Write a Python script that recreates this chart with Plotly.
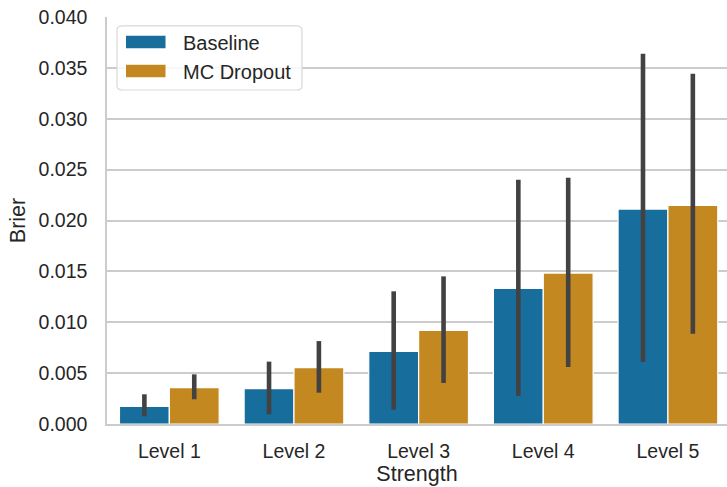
import plotly.graph_objects as go

categories = ["Level 1", "Level 2", "Level 3", "Level 4", "Level 5"]
baseline_mean = [0.00174, 0.00348, 0.00714, 0.01333, 0.02112]
baseline_lo = [0.00076, 0.00095, 0.00141, 0.00275, 0.00609]
baseline_hi = [0.00292, 0.00613, 0.01304, 0.02400, 0.03639]
mc_mean = [0.00358, 0.00554, 0.00920, 0.01483, 0.02148]
mc_lo = [0.00243, 0.00308, 0.00403, 0.00560, 0.00888]
mc_hi = [0.00488, 0.00815, 0.01451, 0.02420, 0.03442]
series_names = ["Baseline", "MC Dropout"]
colors = ["#176D9C", "#C38820"]
y_ticks = [0.0, 0.005, 0.010, 0.015, 0.020, 0.025, 0.030, 0.035, 0.040]

FONT = "Liberation Sans, Arial, sans-serif"
TXT = "#262626"

fig = go.Figure()
for name, mean, lo, hi, col in [
    (series_names[0], baseline_mean, baseline_lo, baseline_hi, colors[0]),
    (series_names[1], mc_mean, mc_lo, mc_hi, colors[1]),
]:
    fig.add_trace(go.Bar(
        x=categories, y=mean, name=name, showlegend=False,
        marker=dict(color=col, line=dict(color="white", width=1.2)),
        error_y=dict(type="data", symmetric=False,
                     array=[h - m for h, m in zip(hi, mean)],
                     arrayminus=[m - l for m, l in zip(mean, lo)],
                     color="#424242", thickness=4.6, width=0),
    ))

# legend (manual, to mimic matplotlib look)
fig.add_shape(type="path", xref="paper", yref="paper",
              path="M 0.0258 0.978 L 0.3048 0.978 Q 0.3145 0.978 0.3145 0.968 L 0.3145 0.8306 "
                   "Q 0.3145 0.8206 0.3048 0.8206 L 0.0258 0.8206 Q 0.0161 0.8206 0.0161 0.8306 "
                   "L 0.0161 0.968 Q 0.0161 0.978 0.0258 0.978 Z",
              fillcolor="rgba(255,255,255,0.85)", line=dict(color="#D9D9D9", width=1.2), layer="above")
swatch_y = [0.9386, 0.8673]
text_y = [0.9354, 0.8657]
for name, col, sy, ty in zip(series_names, colors, swatch_y, text_y):
    fig.add_shape(type="rect", xref="paper", yref="paper",
                  x0=19 / 620, x1=58.5 / 620, y0=sy - 0.0152, y1=sy + 0.0152,
                  fillcolor=col, line=dict(width=0), layer="above")
    fig.add_annotation(x=74 / 620, y=ty, xref="paper", yref="paper", text=name,
                       showarrow=False, xanchor="left", yanchor="middle",
                       font=dict(family=FONT, size=20, color=TXT))

fig.update_layout(
    width=727, height=487,
    margin=dict(l=107, r=0, t=17, b=63),
    paper_bgcolor="white", plot_bgcolor="white",
    barmode="group", bargap=0.2, bargroupgap=0,
    font=dict(family=FONT, size=20, color=TXT),
    showlegend=False,
)
fig.update_xaxes(
    range=[-0.5, 4.474], showgrid=False, showline=True, linecolor="#CCCCCC", linewidth=1.5,
    ticks="", ticklabelstandoff=9, tickfont=dict(size=19.5, color=TXT),
    title=dict(text="Strength", font=dict(size=21.5, color=TXT), standoff=0),
)
fig.update_yaxes(
    range=[0, 0.040], tickvals=y_ticks, tickformat=".3f",
    showgrid=True, gridcolor="#CCCCCC", gridwidth=1.5,
    showline=True, linecolor="#CCCCCC", linewidth=1.5, mirror=False,
    zeroline=False, ticks="", ticklabelstandoff=14, tickfont=dict(size=19.5, color=TXT),
    title=dict(text="Brier", font=dict(size=21.5, color=TXT), standoff=7),
)

fig.write_html("out.html")
